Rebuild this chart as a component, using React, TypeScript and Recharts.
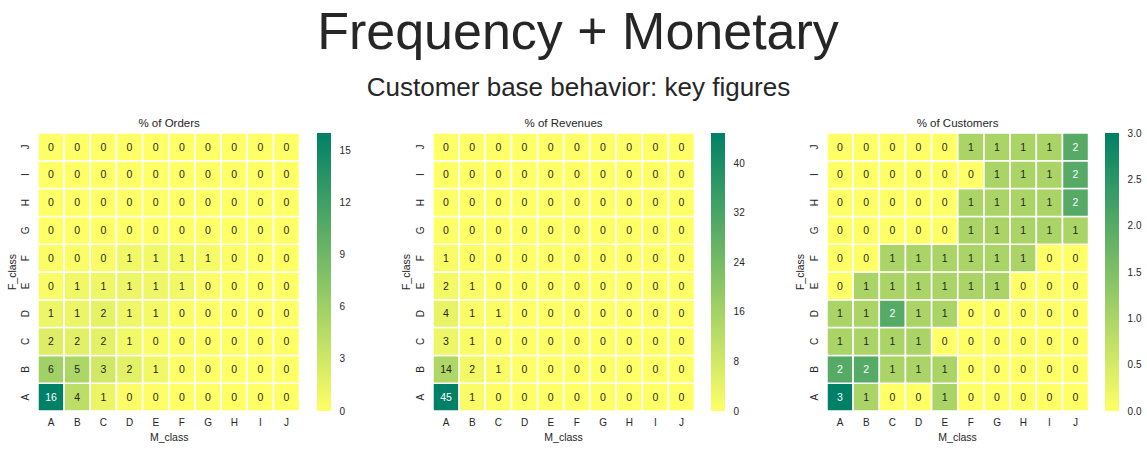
import React from 'react';
import { BarChart, Bar, XAxis, YAxis, Cell, LabelList } from 'recharts';

const M_CLASSES = ['A', 'B', 'C', 'D', 'E', 'F', 'G', 'H', 'I', 'J'];
const F_CLASSES = ['A', 'B', 'C', 'D', 'E', 'F', 'G', 'H', 'I', 'J'];

// rows: F_class A..J (bottom to top); columns: M_class A..J
const ORDERS_PCT: number[][] = [
  [15.98, 4.2, 1.2, 0.2, 0.1, 0, 0, 0, 0, 0],
  [5.9, 5.2, 2.9, 1.8, 0.9, 0.1, 0, 0, 0, 0],
  [2.1, 1.9, 1.7, 0.8, 0.3, 0.1, 0, 0, 0, 0],
  [1.1, 1.2, 1.6, 1.0, 0.7, 0.2, 0, 0, 0, 0],
  [0.4, 0.9, 1.0, 1.1, 1.0, 0.8, 0.2, 0, 0, 0],
  [0.2, 0.3, 0.4, 0.9, 0.8, 0.7, 0.6, 0.1, 0, 0],
  [0, 0, 0, 0, 0, 0, 0, 0, 0, 0],
  [0, 0, 0, 0, 0, 0, 0, 0, 0, 0],
  [0, 0, 0, 0, 0, 0, 0, 0, 0, 0],
  [0, 0, 0, 0, 0, 0, 0, 0, 0, 0],
];

const REVENUES_PCT: number[][] = [
  [44.9, 1.0, 0.3, 0.1, 0, 0, 0, 0, 0, 0],
  [14.2, 2.3, 1.0, 0.2, 0, 0, 0, 0, 0, 0],
  [3.2, 0.9, 0.3, 0.1, 0, 0, 0, 0, 0, 0],
  [4.1, 1.1, 0.8, 0.1, 0, 0, 0, 0, 0, 0],
  [2.0, 0.7, 0.2, 0, 0, 0, 0, 0, 0, 0],
  [1.0, 0.3, 0.1, 0, 0, 0, 0, 0, 0, 0],
  [0, 0, 0, 0, 0, 0, 0, 0, 0, 0],
  [0, 0, 0, 0, 0, 0, 0, 0, 0, 0],
  [0, 0, 0, 0, 0, 0, 0, 0, 0, 0],
  [0, 0, 0, 0, 0, 0, 0, 0, 0, 0],
];

const CUSTOMERS_PCT: number[][] = [
  [3.0, 1.0, 0, 0, 1.0, 0, 0, 0, 0, 0],
  [2.0, 2.0, 1.0, 1.0, 1.0, 0, 0, 0, 0, 0],
  [1.0, 1.0, 1.0, 1.0, 0, 0, 0, 0, 0, 0],
  [1.0, 1.0, 2.0, 1.0, 1.0, 0, 0, 0, 0, 0],
  [0, 1.0, 1.0, 1.0, 1.0, 1.0, 1.0, 0, 0, 0],
  [0, 0, 1.0, 1.0, 1.0, 1.0, 1.0, 1.0, 0, 0],
  [0, 0, 0, 0, 0, 1.0, 1.0, 1.0, 1.0, 1.0],
  [0, 0, 0, 0, 0, 1.0, 1.0, 1.0, 1.0, 2.0],
  [0, 0, 0, 0, 0, 0, 1.0, 1.0, 1.0, 2.0],
  [0, 0, 0, 0, 0, 1.0, 1.0, 1.0, 1.0, 2.0],
];

const ORDERS_TICKS = [0, 3, 6, 9, 12, 15];
const REVENUES_TICKS = [0, 8, 16, 24, 32, 40];
const CUSTOMERS_TICKS = [0, 0.5, 1.0, 1.5, 2.0, 2.5, 3.0];

const FONT = '"Liberation Sans", Arial, "DejaVu Sans", sans-serif';
const INK = '#262626';

const HEAT_TOP = 133.3;
const HEAT_W = 261.7;
const HEAT_H = 278;
const Y_W = 40;
const X_H = 40;
const CB_GAP = 278.4;
const CB_W = 14.3;
const CB_PAD = 10;

// summer_r colormap
function cmap(t: number): string {
  const c = Math.max(0, Math.min(1, t));
  const r = Math.round(255 * (1 - c));
  const g = Math.round(255 * (1 - 0.5 * c));
  const b = 102;
  return `rgb(${r},${g},${b})`;
}

function textColor(t: number): string {
  const c = Math.max(0, Math.min(1, t));
  const lin = (v: number) => (v <= 0.03928 ? v / 12.92 : Math.pow((v + 0.055) / 1.055, 2.4));
  const L = 0.2126 * lin(1 - c) + 0.7152 * lin(1 - 0.5 * c) + 0.0722 * lin(0.4);
  return L > 0.408 ? INK : '#ffffff';
}

const RotTick = (props: any) => {
  const { x, y, payload } = props;
  return (
    <text
      x={x}
      y={y}
      transform={`rotate(-90 ${x} ${y})`}
      textAnchor="middle"
      dy="0.36em"
      fontSize={10}
      fill={INK}
      fontFamily={FONT}
    >
      {F_CLASSES[Math.floor(payload.value)]}
    </text>
  );
};

interface HeatProps {
  title: string;
  matrix: number[][];
  ticks: number[];
  fmt: (v: number) => string;
  left: number;
  gid: string;
}

function Heatmap({ title, matrix, ticks, fmt, left, gid }: HeatProps) {
  const max = Math.max(...matrix.map((r) => Math.max(...r)));
  const data = M_CLASSES.map((m, j) => {
    const row: any = { m };
    F_CLASSES.forEach((_f, i) => {
      row['f' + i] = 1;
      row['v' + i] = matrix[i][j];
    });
    return row;
  });
  const cbData = [{ k: 'cb', v: max }];

  return (
    <>
      <div
        style={{
          position: 'absolute',
          left: left,
          top: 118.4,
          width: HEAT_W,
          textAlign: 'center',
          fontSize: 11.5,
          lineHeight: 1,
          color: INK,
          whiteSpace: 'nowrap',
        }}
      >
        {title}
      </div>
      <div style={{ position: 'absolute', left: left - Y_W, top: HEAT_TOP }}>
        <BarChart
          width={Y_W + HEAT_W}
          height={HEAT_H + X_H}
          data={data}
          margin={{ top: 0, right: 0, bottom: 0, left: 0 }}
          barCategoryGap={0}
        >
          <XAxis
            dataKey="m"
            axisLine={false}
            tickLine={false}
            tickSize={0}
            tickMargin={8}
            height={X_H}
            interval={0}
            tick={{ fontSize: 10, fill: INK, fontFamily: FONT }}
          />
          <YAxis
            type="number"
            domain={[0, 10]}
            allowDataOverflow
            ticks={[0.5, 1.5, 2.5, 3.5, 4.5, 5.5, 6.5, 7.5, 8.5, 9.5]}
            interval={0}
            axisLine={false}
            tickLine={false}
            tickSize={0}
            tickMargin={12.5}
            width={Y_W}
            tick={<RotTick />}
          />
          {F_CLASSES.map((f, i) => (
            <Bar
              key={f}
              dataKey={'f' + i}
              stackId="s"
              isAnimationActive={false}
              stroke="#ffffff"
              strokeWidth={1.5}
            >
              {M_CLASSES.map((m, j) => (
                <Cell key={m} fill={cmap(matrix[i][j] / max)} />
              ))}
              <LabelList
                dataKey={'v' + i}
                content={(p: any) => {
                  const vb = p.viewBox || {};
                  const x = p.x ?? vb.x;
                  const y = p.y ?? vb.y;
                  const w = p.width ?? vb.width;
                  const h = p.height ?? vb.height;
                  const v = Number(p.value);
                  return (
                    <text
                      x={x + w / 2}
                      y={y + h / 2}
                      dy="0.36em"
                      textAnchor="middle"
                      fontSize={10.5}
                      fontFamily={FONT}
                      fill={textColor(v / max)}
                    >
                      {Math.round(v)}
                    </text>
                  );
                }}
              />
            </Bar>
          ))}
        </BarChart>
      </div>
      <div
        style={{
          position: 'absolute',
          left: left + HEAT_W / 2,
          top: 432.2,
          transform: 'translateX(-50%)',
          fontSize: 10.5,
          lineHeight: 1,
          color: INK,
          whiteSpace: 'nowrap',
        }}
      >
        M_class
      </div>
      <div
        style={{
          position: 'absolute',
          left: left - 26.7,
          top: HEAT_TOP + HEAT_H / 2,
          transform: 'translate(-50%, -50%) rotate(-90deg)',
          fontSize: 10.5,
          lineHeight: 1,
          color: INK,
          whiteSpace: 'nowrap',
        }}
      >
        F_class
      </div>
      <div style={{ position: 'absolute', left: left + CB_GAP, top: HEAT_TOP - CB_PAD }}>
        <BarChart
          width={CB_W + 40}
          height={HEAT_H + 2 * CB_PAD}
          data={cbData}
          margin={{ top: CB_PAD, right: 0, bottom: CB_PAD, left: 0 }}
          barCategoryGap={0}
        >
          <defs>
            <linearGradient id={gid} x1="0" y1="1" x2="0" y2="0">
              <stop offset="0%" stopColor={cmap(0)} />
              <stop offset="100%" stopColor={cmap(1)} />
            </linearGradient>
          </defs>
          <XAxis dataKey="k" hide />
          <YAxis
            orientation="right"
            type="number"
            domain={[0, max]}
            allowDataOverflow
            ticks={ticks}
            interval={0}
            axisLine={false}
            tickLine={false}
            tickSize={0}
            tickMargin={8.3}
            width={40}
            tickFormatter={fmt}
            tick={{ fontSize: 10, fill: INK, fontFamily: FONT, textAnchor: 'start' }}
          />
          <Bar dataKey="v" fill={`url(#${gid})`} isAnimationActive={false} />
        </BarChart>
      </div>
    </>
  );
}

export default function App() {
  return (
    <div
      style={{
        position: 'absolute',
        left: 0,
        top: 0,
        width: 1147,
        height: 450,
        background: '#ffffff',
        fontFamily: FONT,
        overflow: 'hidden',
      }}
    >
      <div
        style={{
          position: 'absolute',
          left: 578,
          top: 5,
          transform: 'translateX(-50%)',
          fontSize: 52,
          lineHeight: 1,
          color: INK,
          whiteSpace: 'nowrap',
        }}
      >
        Frequency + Monetary
      </div>
      <div
        style={{
          position: 'absolute',
          left: 578.5,
          top: 74,
          transform: 'translateX(-50%)',
          fontSize: 26,
          lineHeight: 1,
          color: INK,
          whiteSpace: 'nowrap',
        }}
      >
        Customer base behavior: key figures
      </div>
      <Heatmap title="% of Orders" matrix={ORDERS_PCT} ticks={ORDERS_TICKS} fmt={(v) => String(v)} left={38.3} gid="gOrders" />
      <Heatmap title="% of Revenues" matrix={REVENUES_PCT} ticks={REVENUES_TICKS} fmt={(v) => String(v)} left={432.7} gid="gRevenues" />
      <Heatmap title="% of Customers" matrix={CUSTOMERS_PCT} ticks={CUSTOMERS_TICKS} fmt={(v) => v.toFixed(1)} left={826.7} gid="gCustomers" />
    </div>
  );
}
